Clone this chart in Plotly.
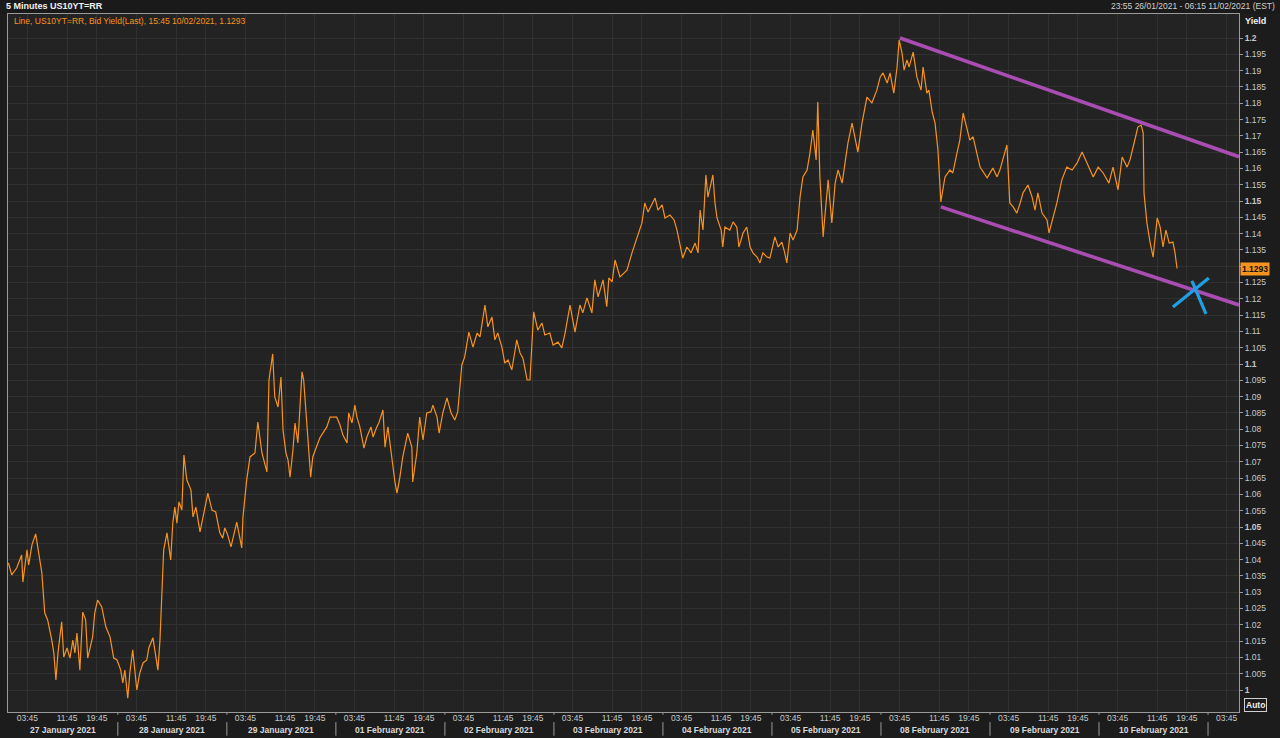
import plotly.graph_objects as go

# ---------------- data ----------------
# 5-minute US10YT=RR bid yield, sampled at readable turning points, per trading day
jan26 = [("23:55", 1.0390)]
jan27 = [("00:35", 1.0353), ("01:35", 1.0374), ("02:35", 1.0414), ("02:50", 1.0331), ("03:40", 1.0430),
         ("04:00", 1.0384), ("04:40", 1.0445), ("05:25", 1.0479), ("05:50", 1.0439), ("06:40", 1.0359),
         ("07:15", 1.0236), ("07:50", 1.0215), ("08:40", 1.0153), ("09:05", 1.0114), ("09:30", 1.0031),
         ("09:55", 1.0114), ("10:40", 1.0209), ("11:05", 1.0101), ("11:45", 1.0129), ("12:20", 1.0098),
         ("12:55", 1.0153), ("13:20", 1.0114), ("13:45", 1.0175), ("14:20", 1.0061), ("14:55", 1.0239),
         ("15:30", 1.0215), ("15:55", 1.0098), ("16:55", 1.0163), ("19:20", 1.0236), ("19:55", 1.0276),
         ("20:45", 1.0255), ("21:35", 1.0193), ("22:25", 1.0163), ("23:10", 1.0098), ("23:50", 1.0092)]
jan28 = [("00:35", 1.0061), ("01:00", 1.0022), ("01:25", 1.0061), ("02:00", 0.9975), ("02:25", 1.0052),
         ("03:00", 1.0123), ("03:50", 1.0000), ("04:25", 1.0052), ("05:05", 1.0083), ("05:50", 1.0092),
         ("06:15", 1.0129), ("07:05", 1.0160), ("07:30", 1.0114), ("08:05", 1.0061), ("08:30", 1.0153),
         ("08:55", 1.0337), ("09:15", 1.0430), ("09:55", 1.0482), ("10:20", 1.0430), ("10:40", 1.0399),
         ("11:05", 1.0512), ("11:30", 1.0561), ("11:55", 1.0512), ("12:20", 1.0577), ("12:55", 1.0552),
         ("13:20", 1.0721), ("13:55", 1.0644), ("14:45", 1.0614), ("15:10", 1.0531), ("15:45", 1.0561),
         ("16:35", 1.0485), ("19:20", 1.0543), ("20:10", 1.0604), ("21:00", 1.0552), ("21:45", 1.0546),
         ("22:35", 1.0482), ("23:10", 1.0466), ("23:35", 1.0497)]
jan29 = [("00:10", 1.0476), ("00:50", 1.0439), ("01:25", 1.0482), ("02:00", 1.0515), ("02:35", 1.0469),
         ("03:00", 1.0436), ("03:15", 1.0531), ("04:00", 1.0644), ("04:40", 1.0715), ("05:40", 1.0727),
         ("06:15", 1.0822), ("07:05", 1.0727), ("08:05", 1.0669), ("08:30", 1.0951), ("09:15", 1.1031),
         ("09:40", 1.0899), ("10:20", 1.0868), ("10:55", 1.0960), ("11:20", 1.0798), ("11:55", 1.0727),
         ("12:20", 1.0706), ("12:45", 1.0653), ("13:20", 1.0736), ("13:45", 1.0819), ("14:20", 1.0758),
         ("15:10", 1.0976), ("15:30", 1.0951), ("16:10", 1.0807), ("16:55", 1.0653), ("19:20", 1.0715),
         ("20:45", 1.0773), ("22:10", 1.0807), ("22:50", 1.0837), ("23:45", 1.0837)]
feb01 = [("00:10", 1.0837), ("00:50", 1.0813), ("01:25", 1.0782), ("02:15", 1.0758), ("02:35", 1.0850),
         ("03:15", 1.0819), ("03:50", 1.0874), ("04:15", 1.0837), ("04:50", 1.0807), ("05:40", 1.0742),
         ("06:15", 1.0776), ("07:05", 1.0807), ("07:30", 1.0776), ("08:15", 1.0807), ("08:40", 1.0819),
         ("09:30", 1.0859), ("09:55", 1.0745), ("10:30", 1.0807), ("11:20", 1.0696), ("11:55", 1.0638),
         ("12:20", 1.0604), ("12:55", 1.0653), ("13:30", 1.0715), ("14:30", 1.0788), ("15:20", 1.0745),
         ("15:30", 1.0638), ("16:20", 1.0727), ("16:55", 1.0837), ("19:35", 1.0767), ("20:20", 1.0850),
         ("21:10", 1.0853), ("21:35", 1.0874), ("22:25", 1.0837), ("22:50", 1.0788), ("23:35", 1.0850)]
feb02 = [("00:25", 1.0896), ("01:15", 1.0850), ("02:00", 1.0828), ("02:35", 1.0853), ("03:25", 1.0997),
         ("04:00", 1.1022), ("04:50", 1.1098), ("05:40", 1.1052), ("06:30", 1.1095), ("07:05", 1.1083),
         ("07:40", 1.1144), ("08:05", 1.1181), ("08:40", 1.1114), ("09:30", 1.1144), ("10:05", 1.1074),
         ("10:40", 1.1095), ("11:30", 1.1052), ("12:05", 1.1003), ("12:45", 1.1012), ("13:30", 1.0982),
         ("14:10", 1.1043), ("14:30", 1.1074), ("15:10", 1.1034), ("15:45", 1.1018), ("16:35", 1.0951),
         ("19:10", 1.0951), ("19:55", 1.1160), ("20:45", 1.1104), ("21:35", 1.1126), ("22:10", 1.1089),
         ("23:10", 1.1095), ("23:50", 1.1058)]
feb03 = [("00:50", 1.1067), ("01:35", 1.1049), ("02:15", 1.1095), ("03:15", 1.1181), ("04:15", 1.1098),
         ("05:15", 1.1181), ("05:50", 1.1157), ("06:40", 1.1203), ("07:40", 1.1157), ("08:15", 1.1258),
         ("08:55", 1.1206), ("09:55", 1.1258), ("10:40", 1.1176), ("11:05", 1.1264), ("11:45", 1.1252),
         ("12:20", 1.1319), ("13:20", 1.1267), ("14:45", 1.1288), ("15:45", 1.1341), ("16:45", 1.1390),
         ("19:45", 1.1432), ("20:20", 1.1494), ("21:00", 1.1466), ("22:25", 1.1509), ("23:00", 1.1472),
         ("23:50", 1.1488)]
feb04 = [("00:25", 1.1448), ("01:25", 1.1457), ("02:15", 1.1442), ("02:50", 1.1411), ("03:25", 1.1371),
         ("04:00", 1.1325), ("04:50", 1.1359), ("05:40", 1.1341), ("06:30", 1.1371), ("07:05", 1.1341),
         ("07:30", 1.1472), ("08:05", 1.1411), ("08:40", 1.1580), ("09:05", 1.1512), ("10:05", 1.1580),
         ("10:30", 1.1494), ("10:55", 1.1448), ("11:45", 1.1411), ("12:05", 1.1359), ("12:30", 1.1420),
         ("13:30", 1.1411), ("14:10", 1.1436), ("14:55", 1.1420), ("15:20", 1.1359), ("16:10", 1.1402),
         ("16:55", 1.1420), ("19:35", 1.1359), ("20:10", 1.1341), ("21:00", 1.1328), ("21:35", 1.1310),
         ("22:10", 1.1341), ("23:00", 1.1328), ("23:35", 1.1325)]
feb05 = [("00:35", 1.1390), ("01:15", 1.1359), ("02:00", 1.1374), ("02:35", 1.1341), ("03:00", 1.1310),
         ("03:40", 1.1402), ("04:15", 1.1380), ("05:05", 1.1411), ("05:40", 1.1512), ("06:15", 1.1574),
         ("07:05", 1.1595), ("07:40", 1.1647), ("08:15", 1.1718), ("08:55", 1.1626), ("09:15", 1.1804),
         ("09:40", 1.1574), ("10:20", 1.1390), ("10:40", 1.1451), ("11:20", 1.1565), ("12:05", 1.1433),
         ("12:45", 1.1555), ("13:20", 1.1595), ("14:10", 1.1555), ("14:45", 1.1617), ("15:20", 1.1678),
         ("16:10", 1.1739), ("16:45", 1.1697), ("19:20", 1.1650), ("20:10", 1.1739), ("21:10", 1.1819),
         ("22:10", 1.1801), ("23:10", 1.1840), ("23:50", 1.1880)]
feb08 = [("00:25", 1.1893), ("01:15", 1.1862), ("01:50", 1.1893), ("02:35", 1.1831), ("03:15", 1.1911),
         ("03:40", 1.1994), ("04:15", 1.1954), ("04:40", 1.1902), ("05:15", 1.1933), ("05:40", 1.1911),
         ("06:30", 1.1957), ("07:15", 1.1880), ("08:05", 1.1840), ("08:30", 1.1911), ("09:15", 1.1831),
         ("09:40", 1.1840), ("10:20", 1.1773), ("10:55", 1.1739), ("11:30", 1.1656), ("12:05", 1.1497),
         ("12:55", 1.1574), ("13:55", 1.1595), ("14:30", 1.1586), ("15:20", 1.1647), ("15:55", 1.1687),
         ("16:35", 1.1770), ("19:20", 1.1727), ("19:55", 1.1687), ("20:35", 1.1697), ("22:00", 1.1604),
         ("23:25", 1.1571)]
feb09 = [("00:35", 1.1601), ("01:25", 1.1574), ("02:00", 1.1595), ("03:25", 1.1672), ("04:00", 1.1494),
         ("04:40", 1.1482), ("05:25", 1.1463), ("06:05", 1.1494), ("06:40", 1.1525), ("07:40", 1.1549),
         ("08:30", 1.1512), ("09:05", 1.1472), ("09:40", 1.1525), ("10:30", 1.1463), ("11:30", 1.1442),
         ("11:55", 1.1402), ("12:45", 1.1451), ("13:30", 1.1494), ("14:30", 1.1565), ("15:30", 1.1604),
         ("16:35", 1.1595), ("19:35", 1.1617), ("20:35", 1.1650), ("21:35", 1.1617), ("22:50", 1.1574),
         ("23:50", 1.1604)]
feb10 = [("00:50", 1.1586), ("02:00", 1.1555), ("02:50", 1.1604), ("03:50", 1.1534), ("04:40", 1.1635),
         ("05:40", 1.1604), ("06:15", 1.1626), ("07:05", 1.1678), ("07:50", 1.1727), ("08:30", 1.1733),
         ("08:55", 1.1709), ("09:05", 1.1525), ("09:40", 1.1433), ("10:20", 1.1371), ("10:55", 1.1328),
         ("11:45", 1.1448), ("12:20", 1.1420), ("12:55", 1.1359), ("13:30", 1.1411), ("14:10", 1.1371),
         ("14:55", 1.1374), ("15:20", 1.1341), ("15:45", 1.1293)]

series_days = [("2021-01-26", jan26), ("2021-01-27", jan27), ("2021-01-28", jan28), ("2021-01-29", jan29),
               ("2021-02-01", feb01), ("2021-02-02", feb02), ("2021-02-03", feb03), ("2021-02-04", feb04),
               ("2021-02-05", feb05), ("2021-02-08", feb08), ("2021-02-09", feb09), ("2021-02-10", feb10)]

# hand-drawn channel lines and the blue cross (time, yield)
channel_upper_t = ["2021-02-08 03:50", "2021-02-11 06:15"]
channel_upper_y = [1.2000, 1.1636]
channel_lower_t = ["2021-02-08 12:05", "2021-02-11 06:15"]
channel_lower_y = [1.1482, 1.1181]
cross_a_t = ["2021-02-10 14:55", "2021-02-11 00:10"]
cross_a_y = [1.1175, 1.1264]
cross_b_t = ["2021-02-10 20:45", "2021-02-10 23:35"]
cross_b_y = [1.1255, 1.1154]

# axis labels
trading_days = ["2021-01-27", "2021-01-28", "2021-01-29", "2021-02-01", "2021-02-02", "2021-02-03",
                "2021-02-04", "2021-02-05", "2021-02-08", "2021-02-09", "2021-02-10"]
day_labels = ["27 January 2021", "28 January 2021", "29 January 2021", "01 February 2021",
              "02 February 2021", "03 February 2021", "04 February 2021", "05 February 2021",
              "08 February 2021", "09 February 2021", "10 February 2021"]
tick_times = ["03:45", "11:45", "19:45"]
extra_tick = ("2021-02-11", "03:45")
ytick_values = [1.0, 1.005, 1.01, 1.015, 1.02, 1.025, 1.03, 1.035, 1.04, 1.045, 1.05, 1.055, 1.06, 1.065,
                1.07, 1.075, 1.08, 1.085, 1.09, 1.095, 1.1, 1.105, 1.11, 1.115, 1.12, 1.125, 1.13, 1.135,
                1.14, 1.145, 1.15, 1.155, 1.16, 1.165, 1.17, 1.175, 1.18, 1.185, 1.19, 1.195, 1.2]
ytick_labels = ["1", "1.005", "1.01", "1.015", "1.02", "1.025", "1.03", "1.035", "1.04", "1.045", "1.05",
                "1.055", "1.06", "1.065", "1.07", "1.075", "1.08", "1.085", "1.09", "1.095", "1.1", "1.105",
                "1.11", "1.115", "1.12", "1.125", "1.13", "1.135", "1.14", "1.145", "1.15", "1.155", "1.16",
                "1.165", "1.17", "1.175", "1.18", "1.185", "1.19", "1.195", "1.2"]
ytick_major = ["1", "1.05", "1.1", "1.15", "1.2"]
ytick_hidden = ["1.13"]          # covered by the last-price tag in the reference
last_value = "1.1293"

# ---------------- build figure ----------------
xs, ys = [], []
for d, pts in series_days:
    for t, v in pts:
        xs.append(f"{d} {t}")
        ys.append(v)

ORANGE = "#F7931E"
PURPLE = "#A94DB3"
BLUE = "#1FA0E6"
FONT = "Liberation Sans"

fig = go.Figure()
fig.add_trace(go.Scatter(x=xs, y=ys, mode="lines", line=dict(color=ORANGE, width=1.2),
                         hoverinfo="skip", showlegend=False))
for tx, ty, col, w in [(channel_upper_t, channel_upper_y, PURPLE, 3.6),
                       (channel_lower_t, channel_lower_y, PURPLE, 3.6),
                       (cross_a_t, cross_a_y, BLUE, 3.2),
                       (cross_b_t, cross_b_y, BLUE, 3.2)]:
    fig.add_trace(go.Scatter(x=tx, y=ty, mode="lines", line=dict(color=col, width=w),
                             hoverinfo="skip", showlegend=False))

tickvals, ticktext = [], []
for d in trading_days:
    for t in tick_times:
        tickvals.append(f"{d} {t}")
        ticktext.append(t)
tickvals.append(f"{extra_tick[0]} {extra_tick[1]}")
ticktext.append(extra_tick[1])

ytext = []
for l in ytick_labels:
    if l in ytick_hidden:
        ytext.append(" ")
    elif l in ytick_major:
        ytext.append(f"<b>{l}</b>")
    else:
        ytext.append(l)

GRID = "#313131"
LINEC = "#9a9a9a"
TXT = "#c8c8c8"

fig.update_layout(
    width=1280, height=738,
    margin=dict(l=8, r=41, t=14, b=26),
    paper_bgcolor="#1c1c1c",
    plot_bgcolor="#232323",
    font=dict(family=FONT, size=9, color=TXT),
    showlegend=False,
    xaxis=dict(
        type="date",
        range=["2021-01-26 23:50", "2021-02-11 06:15"],
        rangebreaks=[dict(bounds=["sat", "mon"]), dict(pattern="hour", bounds=[17, 19])],
        tickmode="array", tickvals=tickvals, ticktext=ticktext,
        showgrid=True, gridcolor=GRID, gridwidth=1,
        ticks="", ticklabelstandoff=-2,
        tickfont=dict(family=FONT, size=8.5, color=TXT),
        showline=True, linecolor=LINEC, linewidth=1, mirror=True,
        zeroline=False, fixedrange=True,
    ),
    yaxis=dict(
        side="right",
        range=[0.99325, 1.20737],
        tickmode="array", tickvals=ytick_values, ticktext=ytext,
        showgrid=True, gridcolor=GRID, gridwidth=1,
        ticks="outside", ticklen=3, tickcolor=LINEC,
        tickfont=dict(family=FONT, size=8.5, color=TXT),
        showline=True, linecolor=LINEC, linewidth=1, mirror=True,
        zeroline=False, fixedrange=True,
    ),
)

shapes = []
# header strip
shapes.append(dict(type="rect", xref="paper", yref="paper", x0=-0.01, x1=1.04, y0=1.0, y1=1.03,
                   fillcolor="#1a1a1a", line=dict(width=0), layer="below"))
# day separators on the date label row
for d in trading_days[1:] + ["2021-02-11"]:
    shapes.append(dict(type="line", xref="x", yref="paper", x0=f"{d} 00:00", x1=f"{d} 00:00",
                       y0=-0.0145, y1=-0.034, line=dict(color=LINEC, width=1)))
    shapes.append(dict(type="line", xref="x", yref="paper", x0=f"{d} 00:00", x1=f"{d} 00:00",
                       y0=0, y1=-0.004, line=dict(color=LINEC, width=1)))
fig.update_layout(shapes=shapes)

ann = []
ann.append(dict(xref="paper", yref="paper", x=-0.003, y=1.0115, xanchor="left", yanchor="middle",
                text="<b>5 Minutes US10YT=RR</b>", showarrow=False,
                font=dict(family=FONT, size=9, color="#f0f0f0")))
ann.append(dict(xref="paper", yref="paper", x=1.031, y=1.0115, xanchor="right", yanchor="middle",
                text="23:55 26/01/2021 - 06:15 11/02/2021 (EST)", showarrow=False,
                font=dict(family=FONT, size=8.5, color="#d0d0d0")))
ann.append(dict(xref="paper", yref="paper", x=0.0035, y=0.990, xanchor="left", yanchor="middle",
                text="Line, US10YT=RR, Bid Yield(Last), 15:45 10/02/2021, 1.1293", showarrow=False,
                font=dict(family=FONT, size=8.5, color=ORANGE)))
ann.append(dict(xref="paper", yref="paper", x=1.003, y=0.990, xanchor="left", yanchor="middle",
                text="<b>Yield</b>", showarrow=False, font=dict(family=FONT, size=9, color="#f0f0f0")))
ann.append(dict(xref="paper", yref="paper", x=1.004, y=0.010, xanchor="left", yanchor="middle",
                text="<b>Auto</b>", showarrow=False, bordercolor="#d0d0d0", borderwidth=1, borderpad=1,
                font=dict(family=FONT, size=8.5, color="#f0f0f0")))
ann.append(dict(xref="paper", yref="y", x=1.001, y=float(last_value), xanchor="left", yanchor="middle",
                text=f"<b>{last_value}</b>", showarrow=False, bgcolor=ORANGE, borderpad=1,
                font=dict(family=FONT, size=8.5, color="#111111")))
for d, lab in zip(trading_days, day_labels):
    ann.append(dict(xref="x", yref="paper", x=f"{d} 11:00", y=-0.0255, xanchor="center", yanchor="middle",
                    text=f"<b>{lab}</b>", showarrow=False, font=dict(family=FONT, size=8.5, color="#d8d8d8")))
fig.update_layout(annotations=ann)

fig.write_html("out.html", config={"displayModeBar": False},
               post_script="document.body.style.margin='0';document.body.style.overflow='hidden';")
